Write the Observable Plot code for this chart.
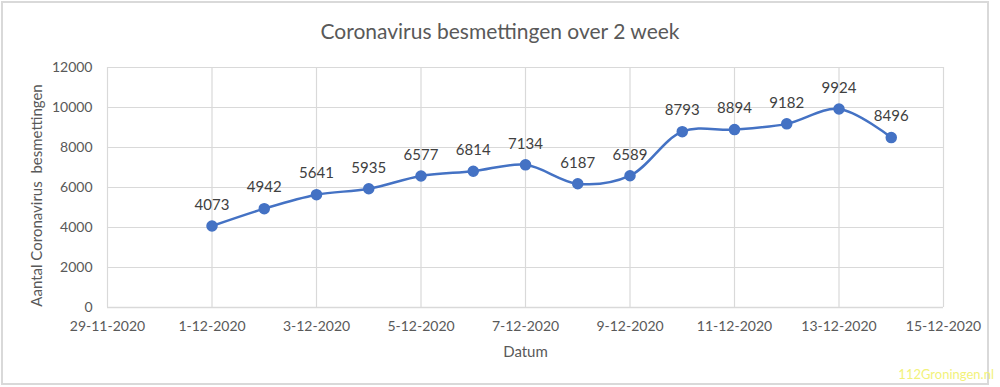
<!DOCTYPE html>
<html>
<head>
<meta charset="utf-8">
<script src="https://cdn.jsdelivr.net/npm/d3@7"></script>
<script src="https://cdn.jsdelivr.net/npm/@observablehq/plot@0.6"></script>
<style>
  body { margin: 0; background: #fff; }
  #wrap { position: relative; width: 1000px; height: 387px; overflow: hidden; font-family: Lato, "Open Sans", sans-serif; }
  #frame { position: absolute; left: 1px; top: 1px; width: 988px; height: 384px; border: 2px solid #d9d9d9; box-sizing: border-box; }
  #title { position: absolute; left: 0; width: 1000px; top: 18px; text-align: center; font-size: 21px; color: #595959; }
  #wm { position: absolute; right: 6px; top: 366px; font-size: 13px; color: #f2f27a; }
  #chart { position: absolute; left: 0; top: 0; }
</style>
</head>
<body>
<div id="wrap">
  <div id="frame"></div>
  <div id="chart"></div>
  <div id="title">Coronavirus besmettingen over 2 week</div>
  <div id="wm">112Groningen.nl</div>
</div>
<script>
const dates = ["2020-12-01","2020-12-02","2020-12-03","2020-12-04","2020-12-05","2020-12-06","2020-12-07","2020-12-08","2020-12-09","2020-12-10","2020-12-11","2020-12-12","2020-12-13","2020-12-14"];
const values = [4073, 4942, 5641, 5935, 6577, 6814, 7134, 6187, 6589, 8793, 8894, 9182, 9924, 8496];
const xTicks = ["2020-11-29","2020-12-01","2020-12-03","2020-12-05","2020-12-07","2020-12-09","2020-12-11","2020-12-13","2020-12-15"];
const yTicks = [0, 2000, 4000, 6000, 8000, 10000, 12000];

const data = dates.map((d, i) => ({date: new Date(d), value: values[i]}));
const xt = xTicks.map(d => new Date(d));
const fmt = d => `${d.getUTCDate()}-${d.getUTCMonth() + 1}-${d.getUTCFullYear()}`;
const grid = "#d9d9d9";
const blue = "#4472c4";

const chart = Plot.plot({
  width: 1000,
  height: 387,
  marginLeft: 107,
  marginRight: 57,
  marginTop: 67,
  marginBottom: 80,
  style: {fontFamily: "Lato, 'Open Sans', sans-serif", fontSize: "14px", color: "#595959", background: "transparent"},
  x: {type: "utc", domain: [xt[0], xt[xt.length - 1]], ticks: xt, tickFormat: fmt, tickSize: 0, tickPadding: 14, label: null},
  y: {domain: [0, 12000], ticks: yTicks, tickFormat: d => String(d), tickSize: 0, tickPadding: 15, label: null},
  marks: [
    Plot.gridY(yTicks, {stroke: grid, strokeOpacity: 1, strokeWidth: 1.2}),
    Plot.gridX(xt, {stroke: grid, strokeOpacity: 1, strokeWidth: 1.2}),
    Plot.axisX({ticks: xt, tickFormat: fmt, tickSize: 0, tickPadding: 14, fontSize: 14, fill: "#595959", label: null}),
    Plot.axisY({ticks: yTicks, tickFormat: d => String(d), tickSize: 0, tickPadding: 15, fontSize: 14, fill: "#595959", label: null}),
    Plot.ruleY([0], {stroke: grid, strokeWidth: 1.5}),
    Plot.line(data, {x: "date", y: "value", stroke: blue, strokeWidth: 2.5, curve: "catmull-rom"}),
    Plot.dot(data, {x: "date", y: "value", r: 5, fill: blue, stroke: blue}),
    Plot.text(data, {x: "date", y: "value", text: d => String(d.value), dy: -21, fontSize: 15, fill: "#404040"}),
    Plot.text(["Datum"], {frameAnchor: "bottom", dy: 49, fontSize: 15, fill: "#595959"}),
    Plot.text(["Aantal Coronavirus  besmettingen"], {frameAnchor: "left", textAnchor: "middle", dx: -70, dy: 8, rotate: -90, fontSize: 15, fill: "#595959", style: "white-space: pre"})
  ]
});
document.getElementById("chart").appendChild(chart);
</script>
</body>
</html>
